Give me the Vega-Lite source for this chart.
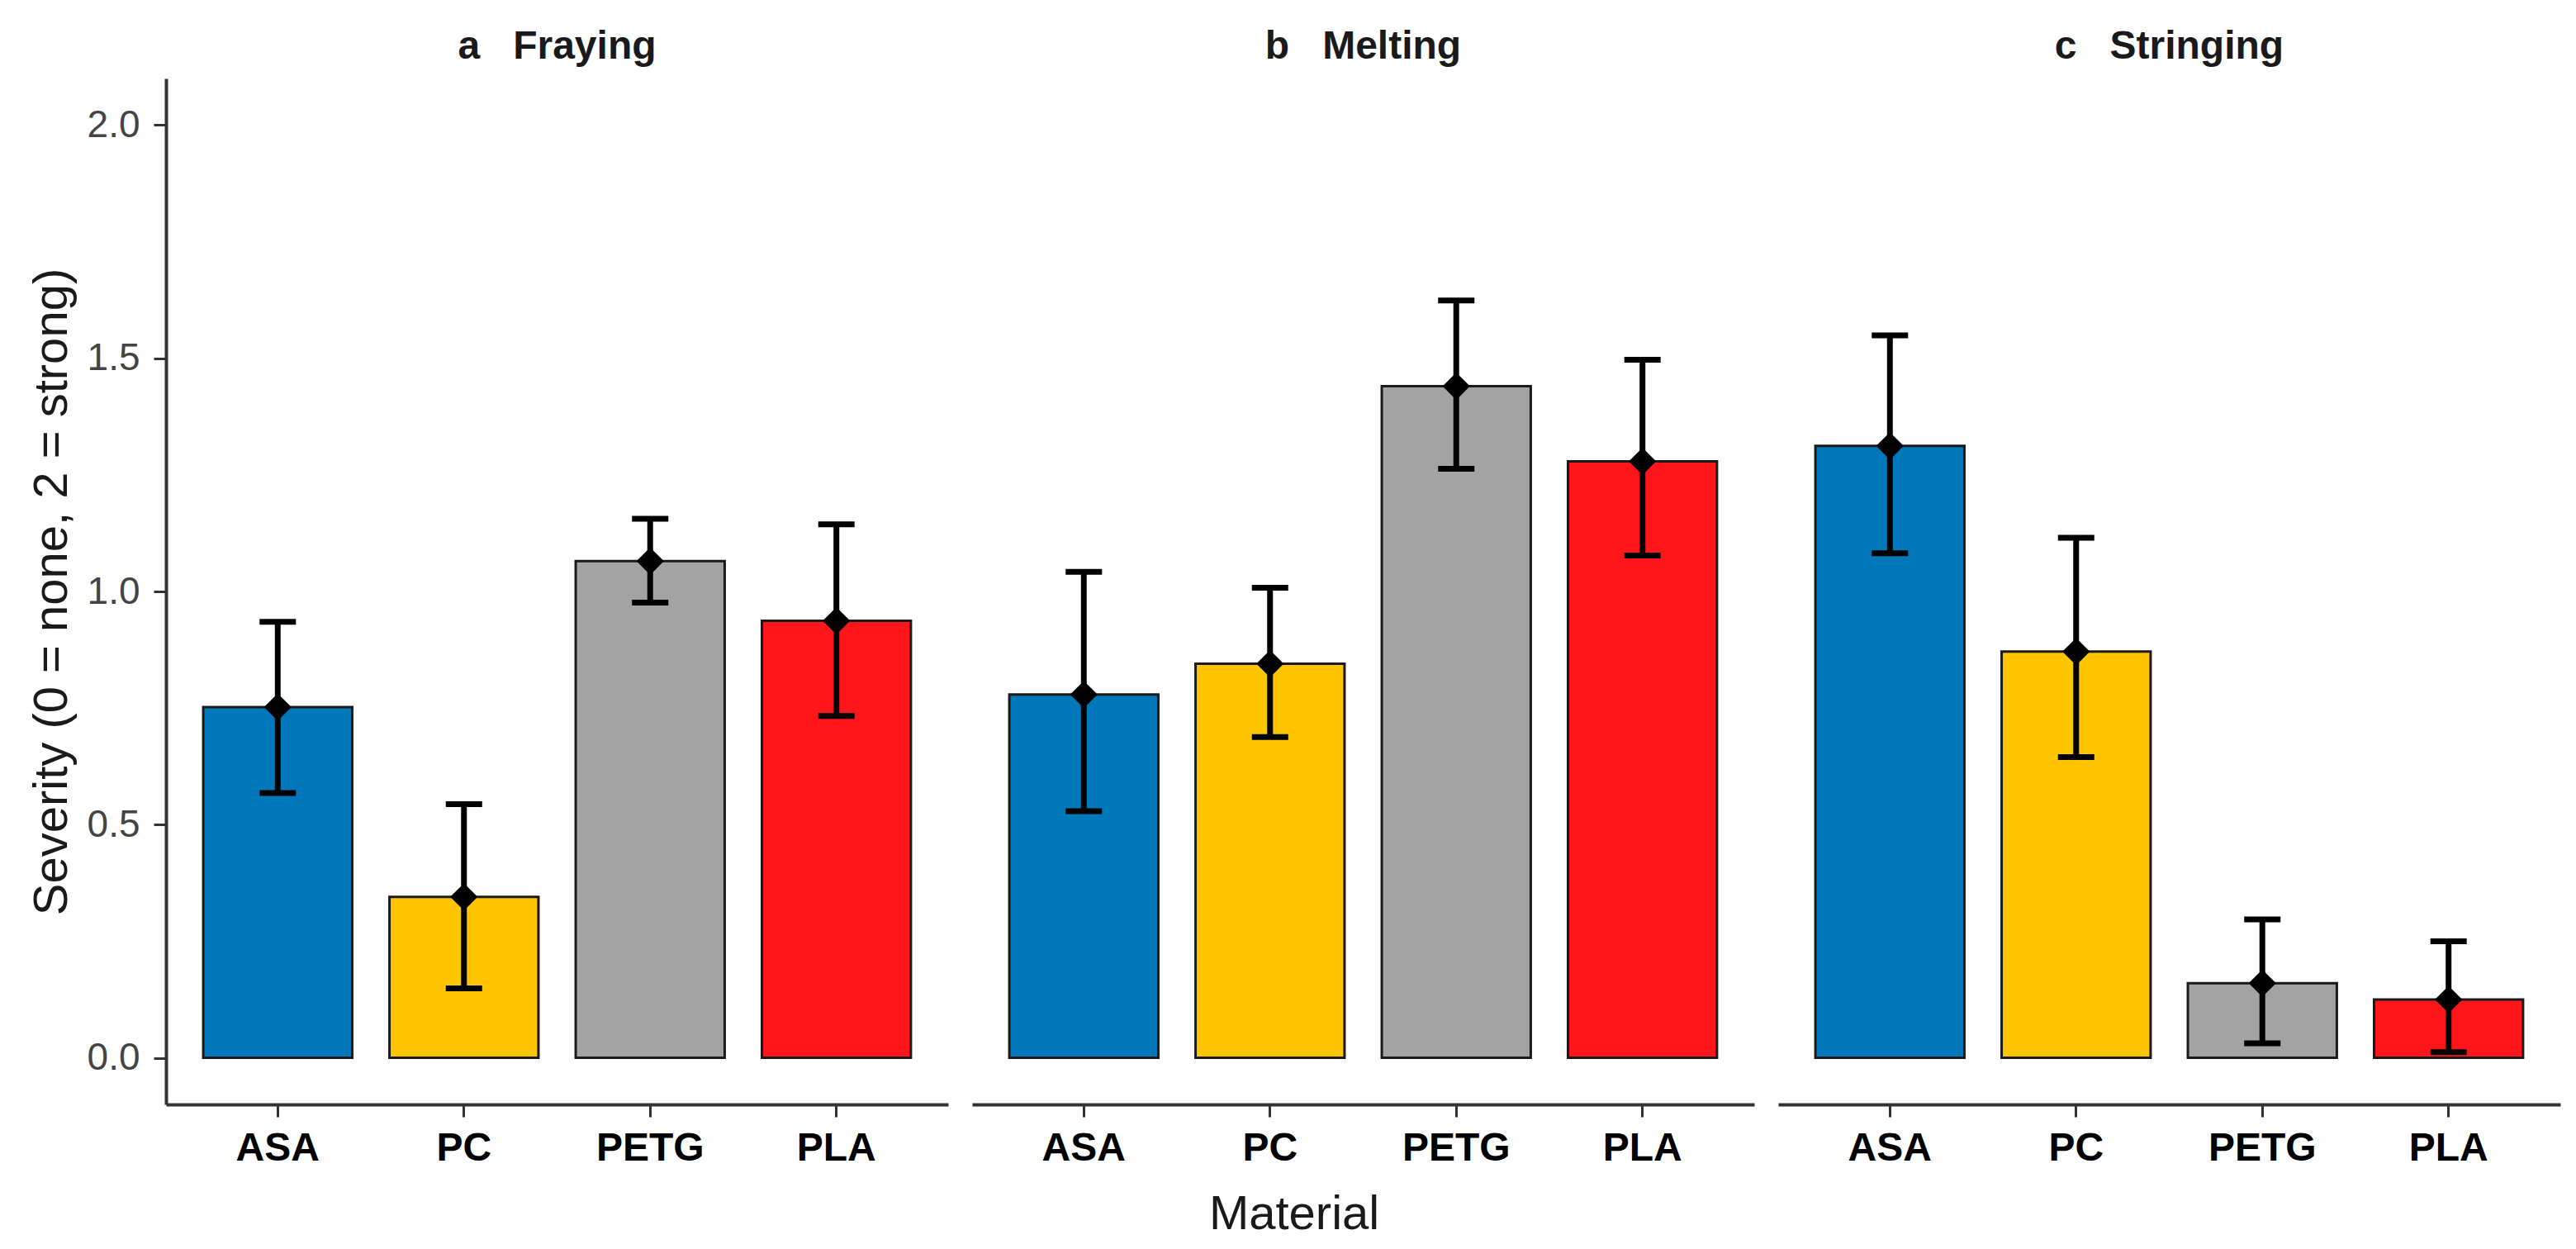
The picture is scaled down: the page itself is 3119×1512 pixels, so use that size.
{
  "$schema": "https://vega.github.io/schema/vega-lite/v6.json",
  "padding": {"left": 34, "top": 33, "right": 14, "bottom": 5},
  "background": "white",
  "title": {
    "text": "Material",
    "orient": "bottom",
    "anchor": "middle",
    "fontSize": 58,
    "fontWeight": "normal",
    "font": "Liberation Sans",
    "color": "#1a1a1a",
    "offset": 28
  },
  "data": {
    "values": [
      {"panel": "a\u00a0\u00a0\u00a0Fraying", "material": "ASA", "mean": 0.752, "lo": 0.568, "hi": 0.935},
      {"panel": "a\u00a0\u00a0\u00a0Fraying", "material": "PC", "mean": 0.345, "lo": 0.149, "hi": 0.544},
      {"panel": "a\u00a0\u00a0\u00a0Fraying", "material": "PETG", "mean": 1.065, "lo": 0.976, "hi": 1.156},
      {"panel": "a\u00a0\u00a0\u00a0Fraying", "material": "PLA", "mean": 0.937, "lo": 0.733, "hi": 1.144},
      {"panel": "b\u00a0\u00a0\u00a0Melting", "material": "ASA", "mean": 0.779, "lo": 0.529, "hi": 1.042},
      {"panel": "b\u00a0\u00a0\u00a0Melting", "material": "PC", "mean": 0.845, "lo": 0.688, "hi": 1.008},
      {"panel": "b\u00a0\u00a0\u00a0Melting", "material": "PETG", "mean": 1.44, "lo": 1.263, "hi": 1.624},
      {"panel": "b\u00a0\u00a0\u00a0Melting", "material": "PLA", "mean": 1.279, "lo": 1.077, "hi": 1.497},
      {"panel": "c\u00a0\u00a0\u00a0Stringing", "material": "ASA", "mean": 1.312, "lo": 1.082, "hi": 1.549},
      {"panel": "c\u00a0\u00a0\u00a0Stringing", "material": "PC", "mean": 0.871, "lo": 0.645, "hi": 1.115},
      {"panel": "c\u00a0\u00a0\u00a0Stringing", "material": "PETG", "mean": 0.16, "lo": 0.031, "hi": 0.297},
      {"panel": "c\u00a0\u00a0\u00a0Stringing", "material": "PLA", "mean": 0.125, "lo": 0.012, "hi": 0.25}
    ]
  },
  "facet": {
    "column": {
      "field": "panel",
      "type": "nominal",
      "header": {
        "title": null,
        "labelFont": "Liberation Sans",
        "labelFontSize": 48,
        "labelFontWeight": "bold",
        "labelColor": "#1a1a1a",
        "labelPadding": 14
      }
    }
  },
  "spacing": 29,
  "spec": {
    "width": 947,
    "height": 1242,
    "encoding": {
      "x": {
        "field": "material",
        "type": "nominal",
        "title": null,
        "scale": {"paddingInner": 0.2, "paddingOuter": 0.2},
        "axis": {
          "labelAngle": 0,
          "labelFont": "Liberation Sans",
          "labelFontSize": 48,
          "labelFontWeight": "bold",
          "labelColor": "#000000",
          "labelPadding": 14,
          "tickSize": 15,
          "tickWidth": 3,
          "tickColor": "#333333",
          "domainColor": "#333333",
          "domainWidth": 4
        }
      }
    },
    "layer": [
      {
        "mark": {"type": "bar", "stroke": "#1a1a1a", "strokeWidth": 3},
        "encoding": {
          "y": {
            "field": "mean",
            "type": "quantitative",
            "title": "Severity (0 = none, 2 = strong)",
            "scale": {"domain": [-0.1, 2.1], "nice": false, "zero": false},
            "axis": {
              "values": [0, 0.5, 1, 1.5, 2],
              "format": ".1f",
              "grid": false,
              "labelFont": "Liberation Sans",
              "labelFontSize": 46,
              "labelColor": "#444444",
              "labelPadding": 17,
              "tickSize": 15,
              "tickWidth": 3,
              "tickColor": "#333333",
              "domainColor": "#333333",
              "domainWidth": 4,
              "titleFont": "Liberation Sans",
              "titleFontSize": 58,
              "titleFontWeight": "normal",
              "titleColor": "#1a1a1a",
              "titlePadding": 13
            }
          },
          "y2": {"datum": 0},
          "color": {
            "field": "material",
            "type": "nominal",
            "scale": {
              "domain": ["ASA", "PC", "PETG", "PLA"],
              "range": ["#0077b8", "#ffc600", "#a3a3a3", "#ff161b"]
            },
            "legend": null
          }
        }
      },
      {
        "mark": {"type": "rule", "color": "#000000", "strokeWidth": 7},
        "encoding": {
          "y": {"field": "lo", "type": "quantitative"},
          "y2": {"field": "hi"}
        }
      },
      {
        "mark": {"type": "tick", "color": "#000000", "size": 44, "thickness": 7, "opacity": 1},
        "encoding": {
          "y": {"field": "lo", "type": "quantitative"}
        }
      },
      {
        "mark": {"type": "tick", "color": "#000000", "size": 44, "thickness": 7, "opacity": 1},
        "encoding": {
          "y": {"field": "hi", "type": "quantitative"}
        }
      },
      {
        "mark": {"type": "point", "shape": "diamond", "filled": true, "color": "#000000", "size": 1100, "opacity": 1},
        "encoding": {
          "y": {"field": "mean", "type": "quantitative"}
        }
      }
    ]
  },
  "resolve": {"scale": {"y": "shared"}},
  "config": {
    "view": {"stroke": null},
    "font": "Liberation Sans"
  }
}
